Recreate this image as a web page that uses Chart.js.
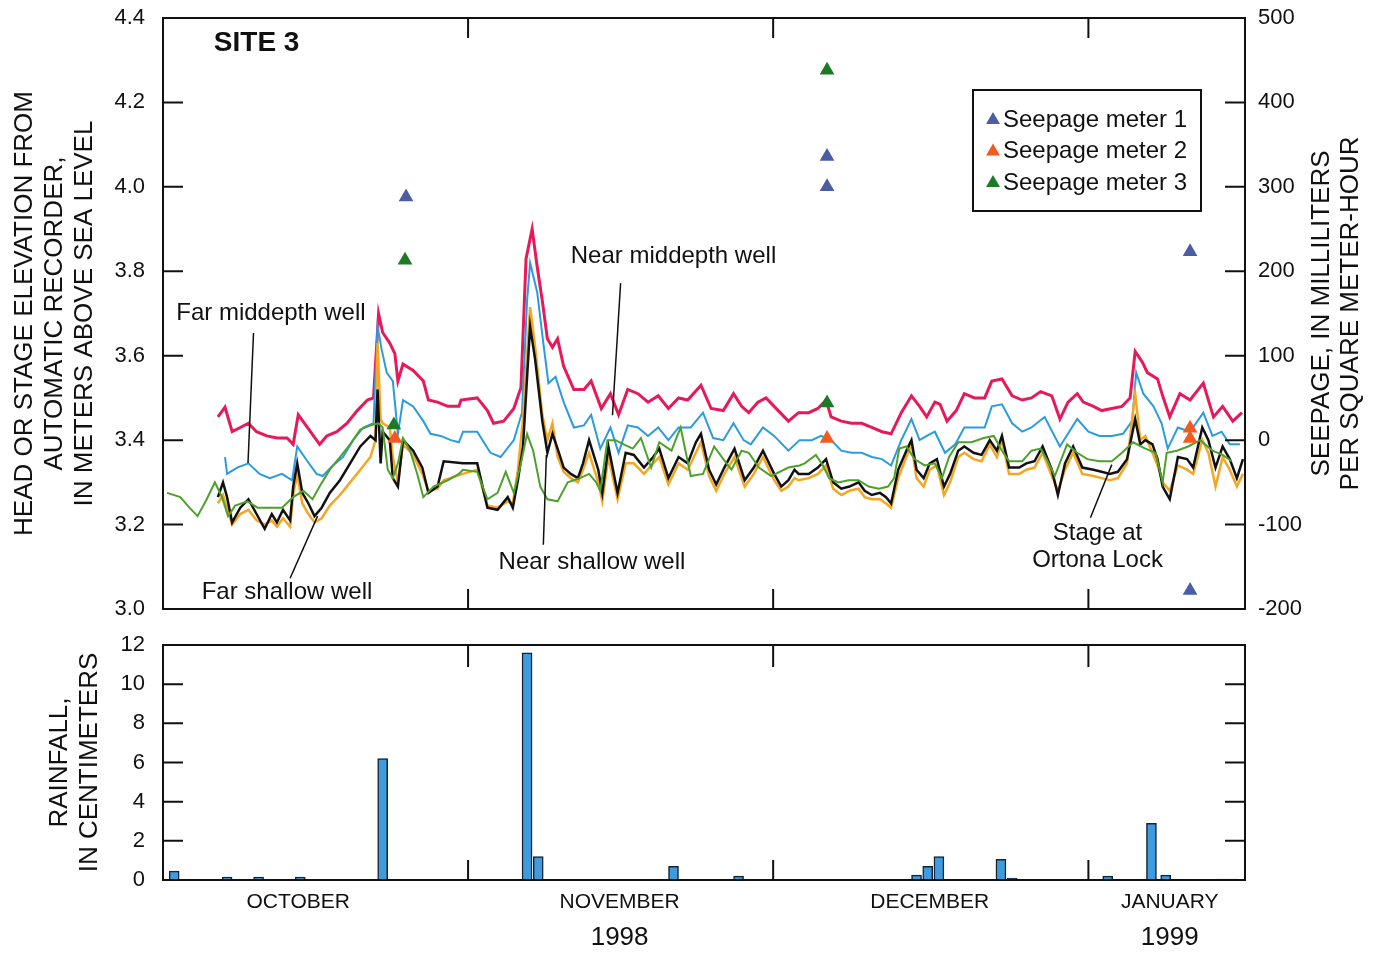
<!DOCTYPE html>
<html>
<head>
<meta charset="utf-8">
<title>Site 3</title>
<script src="https://cdn.jsdelivr.net/npm/chart.js@4.4.1/dist/chart.umd.min.js"></script>
<style>
  html, body { margin: 0; padding: 0; background: #fff; }
  #wrap { position: relative; width: 1378px; height: 953px; }
  canvas { position: absolute; left: 0; }
  #top { top: 0; }
  #bottom { top: 625px; }
</style>
</head>
<body>
<div id="wrap">
  <canvas id="top" width="1378" height="625"></canvas>
  <canvas id="bottom" width="1378" height="328"></canvas>
</div>
<script>
// x values are days since 1 October 1998 (31 = 1 Nov, 61 = 1 Dec, 92 = 1 Jan)
var monthStarts = [31, 61, 92];
var monthNames = ["OCTOBER", "NOVEMBER", "DECEMBER", "JANUARY"];
var monthLabelDays = [14.3, 45.9, 76.4, 100.0];
var yearNames = ["1998", "1999"];
var yearLabelDays = [45.9, 100.0];

// near middepth well (red)
var nearMidDays = [6.4,7.1,7.8,8.6,9.4,10.2,11.2,12.2,13.2,13.8,
    14.3,15.2,15.8,16.4,17.1,18.1,19.1,20.1,21.1,21.7,
    22.2,22.6,23.3,23.8,24.1,24.6,25.6,26.6,27.1,28.0,
    29.0,30.1,30.3,31.9,32.9,33.5,34.5,35.5,36.2,36.7,
    37.3,37.8,38.3,38.8,39.3,39.8,40.4,41.4,42.4,43.1,
    44.1,45.0,45.8,46.7,47.7,48.7,49.7,50.7,51.7,52.6,
    53.9,54.9,56.1,57.1,57.9,58.6,59.5,60.3,61.5,62.5,
    63.5,64.5,65.4,66.2,66.7,67.7,68.7,69.7,70.7,71.7,
    72.6,73.6,74.6,75.4,76.1,76.9,77.4,78.1,79.0,79.8,
    80.8,81.8,82.5,83.5,84.5,85.5,86.4,87.3,88.4,89.2,
    90.0,90.9,91.5,92.5,93.3,94.3,95.3,96.1,96.6,97.3,
    97.8,98.8,99.3,100.0,101.0,102.0,103.3,104.3,105.2,106.2,
    107.1];
var nearMidHead = [3.455,3.478,3.42,3.43,3.44,3.42,3.41,3.405,3.405,3.39,
    3.46,3.43,3.41,3.39,3.41,3.42,3.44,3.47,3.495,3.50,
    3.70,3.655,3.63,3.605,3.54,3.58,3.565,3.54,3.495,3.49,
    3.48,3.48,3.495,3.50,3.47,3.44,3.445,3.475,3.525,3.83,
    3.90,3.81,3.73,3.64,3.62,3.64,3.575,3.52,3.52,3.54,
    3.475,3.51,3.46,3.52,3.51,3.49,3.505,3.475,3.50,3.495,
    3.53,3.475,3.47,3.51,3.48,3.465,3.49,3.50,3.47,3.445,
    3.465,3.465,3.475,3.495,3.455,3.445,3.44,3.44,3.43,3.42,
    3.415,3.465,3.505,3.48,3.455,3.49,3.485,3.445,3.47,3.51,
    3.50,3.50,3.54,3.545,3.505,3.495,3.50,3.515,3.505,3.45,
    3.49,3.51,3.49,3.48,3.47,3.475,3.48,3.50,3.61,3.585,
    3.56,3.545,3.505,3.455,3.51,3.495,3.535,3.455,3.48,3.445,
    3.465];

// far middepth well (blue)
var farMidDays = [7.1,7.3,8.3,9.4,10.5,11.5,12.7,13.7,14.2,15.2,
    16.1,16.7,17.7,18.7,19.7,20.7,21.7,22.1,22.5,23.0,
    23.6,24.1,24.6,25.6,26.6,27.3,28.3,29.3,30.1,30.5,
    31.9,33.2,34.2,35.5,36.3,36.8,37.1,37.8,38.4,38.9,
    39.6,40.4,41.4,42.4,43.1,44.0,45.0,45.8,46.7,47.7,
    48.7,49.7,50.7,51.7,52.9,54.1,55.1,56.1,57.1,58.1,
    58.8,60.0,61.1,62.5,63.6,64.8,65.7,66.7,67.7,68.7,
    69.7,70.7,71.7,72.6,73.6,74.6,75.4,76.1,76.9,77.9,
    78.9,79.8,80.8,81.8,82.5,83.5,84.5,85.5,86.4,87.7,
    89.2,90.9,92.0,93.1,94.3,95.4,96.3,96.7,97.4,98.4,
    99.2,99.8,100.8,102.0,103.3,104.2,105.1,105.9,106.9];
var farMidHead = [3.36,3.32,3.335,3.345,3.32,3.31,3.32,3.305,3.385,3.35,
    3.32,3.315,3.34,3.36,3.40,3.43,3.44,3.67,3.615,3.56,
    3.54,3.415,3.495,3.48,3.445,3.415,3.41,3.40,3.395,3.42,
    3.42,3.37,3.36,3.40,3.465,3.73,3.82,3.75,3.63,3.535,
    3.55,3.49,3.43,3.435,3.46,3.38,3.43,3.37,3.435,3.43,
    3.41,3.43,3.40,3.43,3.43,3.465,3.405,3.40,3.44,3.40,
    3.39,3.43,3.41,3.375,3.40,3.40,3.41,3.40,3.375,3.37,
    3.37,3.36,3.355,3.34,3.40,3.45,3.40,3.41,3.42,3.37,
    3.39,3.43,3.43,3.43,3.48,3.485,3.44,3.42,3.43,3.455,
    3.385,3.45,3.42,3.41,3.41,3.415,3.445,3.56,3.51,3.48,
    3.44,3.38,3.43,3.42,3.465,3.41,3.42,3.39,3.39];

// shallow wells share reading days
var shallowDays = [6.4,6.9,7.3,7.8,8.6,9.4,10.2,11.0,11.7,12.2,
    12.8,13.5,13.8,14.2,14.7,15.3,15.9,16.6,17.4,18.4,
    19.4,20.4,21.4,21.9,22.1,22.4,22.6,23.3,23.6,24.1,
    24.6,25.6,26.5,27.1,28.0,28.6,30.5,31.9,32.9,33.9,
    34.9,35.4,35.9,36.4,37.1,37.6,38.3,38.8,39.3,39.8,
    40.4,41.1,41.8,42.3,42.9,43.8,44.2,44.8,45.7,46.5,
    47.3,48.3,49.2,49.8,50.7,51.7,52.6,53.4,53.9,54.7,
    55.4,56.2,57.2,58.2,59.1,60.0,61.1,61.8,62.5,63.1,
    63.5,64.5,65.4,66.2,66.9,67.7,68.5,69.4,70.0,70.7,
    71.5,72.1,72.6,73.3,74.1,74.6,75.1,75.8,76.4,77.1,
    77.8,78.4,79.2,79.8,80.7,81.5,82.3,83.0,83.5,84.2,
    85.2,85.9,86.7,87.5,88.4,89.0,89.7,90.5,91.4,92.5,
    93.3,94.1,94.9,95.8,96.6,97.1,97.6,98.3,98.8,99.3,
    100.0,100.8,101.7,102.3,103.2,103.8,104.5,105.2,105.9,106.6,
    107.2];
// far shallow well (black)
var farShallowHead = [3.265,3.30,3.265,3.205,3.24,3.26,3.225,3.19,3.225,3.205,
    3.235,3.21,3.29,3.345,3.275,3.25,3.22,3.24,3.275,3.305,
    3.345,3.385,3.41,3.40,3.52,3.345,3.42,3.40,3.31,3.29,
    3.40,3.375,3.335,3.275,3.29,3.35,3.345,3.345,3.24,3.235,
    3.265,3.24,3.305,3.385,3.67,3.59,3.445,3.37,3.415,3.38,
    3.335,3.32,3.31,3.345,3.40,3.33,3.275,3.385,3.275,3.37,
    3.365,3.335,3.36,3.38,3.31,3.36,3.345,3.395,3.415,3.33,
    3.295,3.335,3.38,3.305,3.335,3.375,3.32,3.29,3.305,3.33,
    3.32,3.32,3.335,3.355,3.30,3.285,3.29,3.30,3.28,3.27,
    3.275,3.265,3.25,3.33,3.375,3.40,3.33,3.31,3.345,3.355,
    3.29,3.32,3.375,3.385,3.37,3.365,3.40,3.375,3.41,3.335,
    3.335,3.345,3.35,3.385,3.33,3.27,3.345,3.385,3.335,3.33,
    3.325,3.32,3.325,3.355,3.45,3.39,3.40,3.39,3.355,3.29,
    3.26,3.36,3.355,3.335,3.43,3.40,3.335,3.385,3.355,3.31,
    3.355];
// near shallow well (orange)
var nearShallowHead = [3.25,3.27,3.24,3.20,3.225,3.235,3.21,3.20,3.21,3.195,
    3.215,3.195,3.27,3.32,3.25,3.225,3.205,3.215,3.245,3.27,
    3.30,3.33,3.36,3.40,3.63,3.45,3.44,3.43,3.36,3.30,
    3.39,3.365,3.32,3.28,3.285,3.305,3.32,3.33,3.245,3.24,
    3.255,3.25,3.33,3.45,3.715,3.62,3.46,3.40,3.44,3.36,
    3.325,3.31,3.30,3.33,3.37,3.30,3.255,3.36,3.26,3.345,
    3.345,3.32,3.345,3.36,3.295,3.345,3.33,3.37,3.395,3.315,
    3.28,3.32,3.36,3.29,3.32,3.36,3.305,3.28,3.29,3.31,
    3.305,3.31,3.32,3.34,3.285,3.27,3.28,3.285,3.265,3.26,
    3.26,3.25,3.24,3.31,3.36,3.39,3.31,3.29,3.33,3.34,
    3.27,3.30,3.36,3.37,3.355,3.35,3.39,3.36,3.40,3.32,
    3.32,3.33,3.335,3.37,3.315,3.28,3.33,3.37,3.32,3.315,
    3.31,3.305,3.31,3.345,3.51,3.40,3.41,3.37,3.34,3.30,
    3.28,3.34,3.33,3.32,3.40,3.37,3.29,3.36,3.33,3.29,
    3.32];

// stage at Ortona Lock (green)
var stageDays = [1.4,2.7,3.6,4.4,5.3,6.1,6.8,7.4,8.1,9.3,
    10.3,11.5,12.7,13.8,14.8,15.7,16.4,17.4,18.4,19.4,
    20.4,21.4,22.2,22.6,23.1,23.6,24.1,24.6,25.3,26.0,
    26.6,27.6,29.0,30.1,30.5,31.9,32.9,33.9,34.7,35.5,
    36.2,36.8,37.4,38.1,38.8,39.8,40.8,42.0,42.9,43.6,
    44.0,44.7,45.5,46.3,47.2,48.0,49.0,49.8,51.0,51.9,
    52.9,54.1,55.2,56.1,56.9,57.9,58.6,59.6,60.8,62.5,
    63.6,64.1,65.2,65.9,66.5,67.4,68.4,69.4,70.4,71.4,
    72.3,72.9,73.4,74.1,74.9,75.9,76.9,77.6,78.3,79.2,
    80.5,81.7,82.7,83.5,84.2,85.5,86.4,87.3,87.9,88.7,
    89.9,90.9,91.9,93.1,94.3,95.3,96.4,97.6,98.6,99.3,
    99.7,100.7,101.8,103.0,104.2,105.2,106.1];
var stageHead = [3.275,3.265,3.24,3.22,3.26,3.30,3.265,3.22,3.245,3.255,
    3.24,3.24,3.24,3.265,3.28,3.26,3.29,3.33,3.36,3.39,
    3.425,3.435,3.44,3.43,3.33,3.31,3.345,3.405,3.375,3.32,
    3.265,3.29,3.305,3.32,3.33,3.325,3.26,3.275,3.325,3.275,
    3.345,3.415,3.375,3.29,3.26,3.255,3.30,3.31,3.32,3.30,
    3.28,3.40,3.40,3.39,3.38,3.405,3.335,3.395,3.375,3.43,
    3.315,3.32,3.385,3.355,3.33,3.375,3.37,3.335,3.315,3.335,
    3.34,3.345,3.365,3.34,3.31,3.30,3.305,3.305,3.29,3.285,
    3.29,3.31,3.38,3.385,3.355,3.34,3.345,3.31,3.36,3.395,
    3.395,3.405,3.41,3.375,3.35,3.35,3.375,3.38,3.355,3.315,
    3.39,3.37,3.355,3.35,3.35,3.37,3.395,3.38,3.37,3.30,
    3.37,3.375,3.385,3.40,3.375,3.365,3.35];

// seepage, mL per square meter-hour (right axis)
var meter1Days = [24.9, 66.3, 66.3, 102.0, 102.0];
var meter1Flux = [288, 336, 300, 223, -178];
var meter2Days = [23.8, 66.3, 102.0, 102.0];
var meter2Flux = [2, 2, 14, 2];
var meter3Days = [23.7, 24.8, 66.3, 66.3];
var meter3Flux = [18, 213, 438, 44];

// daily rainfall, cm
var rainDays = [2.1, 7.3, 10.4, 14.5, 22.6, 36.8, 37.9, 51.2, 57.6, 75.1, 76.2, 77.3, 83.4, 84.5, 93.9, 98.2, 99.6, 105.1, 106.2];
var rainCm = [0.45, 0.15, 0.15, 0.15, 6.2, 11.6, 1.2, 0.7, 0.2, 0.25, 0.7, 1.2, 1.05, 0.1, 0.2, 2.9, 0.25, 0.05, 0.05];

var headTitle = ["HEAD OR STAGE ELEVATION FROM", "AUTOMATIC RECORDER,", "IN METERS ABOVE SEA LEVEL"];
var seepageTitle = ["SEEPAGE, IN MILLILITERS", "PER SQUARE METER-HOUR"];
var rainTitle = ["RAINFALL,", "IN CENTIMETERS"];

// labels written on the plot, placed in data units
var notes = [
    { lines: ["SITE 3"], day: 6.0, heads: [4.341], align: "left", bold: true },
    { lines: ["Far middepth well"], day: 2.3, heads: [3.701], align: "left", from: [9.9, 3.654], to: [9.36, 3.346] },
    { lines: ["Near middepth well"], day: 41.1, heads: [3.836], align: "left", from: [46.0, 3.772], to: [45.2, 3.459] },
    { lines: ["Far shallow well"], day: 4.8, heads: [3.040], align: "left", from: [13.5, 3.073], to: [16.2, 3.220] },
    { lines: ["Near shallow well"], day: 34.0, heads: [3.111], align: "left", from: [38.4, 3.152], to: [38.7, 3.365] },
    { lines: ["Stage at", "Ortona Lock"], day: 92.9, heads: [3.180, 3.116], align: "center", from: [92.2, 3.216], to: [94.3, 3.342] }
];

var FONT = '"Liberation Sans", Arial, sans-serif';
var INK = "#111";
Chart.defaults.font.family = FONT;
Chart.defaults.color = INK;

function pts(days, vals) {
    return days.map(function (d, i) { return { x: d, y: vals[i] }; });
}

// fixed axis width; drop the extra room Chart.js keeps for end labels
function fixWidth(w) {
    return function (s) { s.width = w; s.paddingTop = 0; s.paddingBottom = 0; };
}

// frame around the plot plus short inward tick marks
function frameTicks(cfg) {
    return {
        id: "frameTicks",
        afterDraw: function (chart) {
            var ctx = chart.ctx, a = chart.chartArea, s = chart.scales;
            ctx.save();
            ctx.strokeStyle = INK;
            ctx.lineWidth = 2;
            ctx.strokeRect(a.left, a.top, a.right - a.left, a.bottom - a.top);
            ctx.beginPath();
            cfg.left.forEach(function (v) {
                var y = s[cfg.leftScale].getPixelForValue(v);
                ctx.moveTo(a.left, y); ctx.lineTo(a.left + cfg.len, y);
            });
            cfg.right.forEach(function (v) {
                var y = s[cfg.rightScale].getPixelForValue(v);
                ctx.moveTo(a.right, y); ctx.lineTo(a.right - cfg.len, y);
            });
            monthStarts.forEach(function (d) {
                var x = s.x.getPixelForValue(d);
                ctx.moveTo(x, a.top); ctx.lineTo(x, a.top + cfg.topLen);
                ctx.moveTo(x, a.bottom); ctx.lineTo(x, a.bottom - cfg.len);
            });
            ctx.stroke();
            ctx.restore();
        }
    };
}

var notesPlugin = {
    id: "notes",
    afterDatasetsDraw: function (chart) {
        var ctx = chart.ctx, x = chart.scales.x, y = chart.scales.y;
        ctx.save();
        ctx.fillStyle = INK;
        ctx.strokeStyle = INK;
        ctx.lineWidth = 1.5;
        ctx.textBaseline = "middle";
        notes.forEach(function (n) {
            ctx.font = (n.bold ? "bold 28px " : "24px ") + FONT;
            ctx.textAlign = n.align;
            n.lines.forEach(function (t, i) {
                ctx.fillText(t, x.getPixelForValue(n.day), y.getPixelForValue(n.heads[i]));
            });
            if (n.from) {
                ctx.beginPath();
                ctx.moveTo(x.getPixelForValue(n.from[0]), y.getPixelForValue(n.from[1]));
                ctx.lineTo(x.getPixelForValue(n.to[0]), y.getPixelForValue(n.to[1]));
                ctx.stroke();
            }
        });
        ctx.restore();
    }
};

function triangle(ctx, cx, cy, r) {
    ctx.beginPath();
    ctx.moveTo(cx, cy - r);
    ctx.lineTo(cx + r * 0.87, cy + r * 0.5);
    ctx.lineTo(cx - r * 0.87, cy + r * 0.5);
    ctx.closePath();
    ctx.fill();
}

// boxed legend for the seepage meters only
var seepLegend = {
    id: "seepLegend",
    afterDraw: function (chart) {
        var ctx = chart.ctx, a = chart.chartArea;
        var left = a.right - 272, top = a.top + 72;
        ctx.save();
        ctx.fillStyle = "#fff";
        ctx.fillRect(left, top, 228, 121);
        ctx.strokeStyle = INK;
        ctx.lineWidth = 2;
        ctx.strokeRect(left, top, 228, 121);
        ctx.font = "24px " + FONT;
        ctx.textBaseline = "middle";
        ctx.textAlign = "left";
        chart.data.datasets.filter(function (d) { return d.type === "scatter"; }).forEach(function (d, i) {
            var cy = top + 30 + i * 31.5;
            ctx.fillStyle = d.backgroundColor;
            triangle(ctx, left + 20, cy, 8);
            ctx.fillStyle = INK;
            ctx.fillText(d.label, left + 30, cy);
        });
        ctx.restore();
    }
};

var rightTitle = {
    id: "rightTitle",
    afterDraw: function (chart) {
        var ctx = chart.ctx, s = chart.scales.y2;
        var cy = (s.top + s.bottom) / 2;
        ctx.save();
        ctx.fillStyle = INK;
        ctx.font = "26px " + FONT;
        ctx.textAlign = "center";
        ctx.textBaseline = "middle";
        seepageTitle.forEach(function (t, i) {
            ctx.save();
            ctx.translate(s.right - 56 + i * 29, cy);
            ctx.rotate(-Math.PI / 2);
            ctx.fillText(t, 0, 0);
            ctx.restore();
        });
        ctx.restore();
    }
};

function lineSet(label, days, vals, color, width, order) {
    return { type: "line", label: label, data: pts(days, vals), borderColor: color,
        borderWidth: width, pointRadius: 0, tension: 0, yAxisID: "y", order: order };
}
function seepSet(label, days, vals, color) {
    return { type: "scatter", label: label, data: pts(days, vals), backgroundColor: color,
        borderColor: color, borderWidth: 0, pointStyle: "triangle", pointRadius: 8.5, yAxisID: "y2", order: 0 };
}

new Chart("top", {
    type: "line",
    data: {
        datasets: [
            seepSet("Seepage meter 1", meter1Days, meter1Flux, "#4c5ea3"),
            seepSet("Seepage meter 2", meter2Days, meter2Flux, "#f25a1f"),
            seepSet("Seepage meter 3", meter3Days, meter3Flux, "#1c7a26"),
            lineSet("Stage at Ortona Lock", stageDays, stageHead, "#4ea02c", 2, 1),
            lineSet("Far shallow well", shallowDays, farShallowHead, "#111111", 2.5, 2),
            lineSet("Near shallow well", shallowDays, nearShallowHead, "#f5a623", 2.5, 3),
            lineSet("Far middepth well", farMidDays, farMidHead, "#2b9be0", 2, 4),
            lineSet("Near middepth well", nearMidDays, nearMidHead, "#e8195a", 3, 5)
        ]
    },
    options: {
        responsive: false,
        animation: false,
        events: [],
        layout: { padding: { top: 18, bottom: 16, left: 0, right: 0 } },
        plugins: { legend: { display: false }, tooltip: { enabled: false } },
        scales: {
            x: { type: "linear", min: 1, max: 107.4, display: false },
            y: {
                type: "linear", position: "left", min: 3.0, max: 4.4,
                ticks: { stepSize: 0.2, padding: 18, color: INK, font: { size: 22 },
                    callback: function (v) { return v.toFixed(1); } },
                grid: { display: false, drawTicks: false },
                border: { display: false },
                title: { display: true, text: headTitle, color: INK,
                    font: { size: 26, lineHeight: 1.15 }, padding: { top: 10, bottom: 0 } },
                afterFit: fixWidth(163)
            },
            y2: {
                type: "linear", position: "right", min: -200, max: 500,
                ticks: { stepSize: 100, padding: 13, color: INK, font: { size: 22 } },
                grid: { display: false, drawTicks: false },
                border: { display: false },
                afterFit: fixWidth(133)
            }
        }
    },
    plugins: [
        frameTicks({ leftScale: "y", left: [3.2, 3.4, 3.6, 3.8, 4.0, 4.2],
            rightScale: "y2", right: [-100, 0, 100, 200, 300, 400], len: 20, topLen: 20 }),
        notesPlugin, seepLegend, rightTitle
    ]
});

new Chart("bottom", {
    type: "bar",
    data: {
        datasets: [{
            label: "Rainfall",
            data: pts(rainDays, rainCm),
            backgroundColor: "#3f9be0",
            borderColor: "#16232f",
            borderWidth: 1.5,
            barThickness: 10
        }]
    },
    options: {
        responsive: false,
        animation: false,
        events: [],
        layout: { padding: { top: 20, bottom: 0, left: 0, right: 133 } },
        plugins: { legend: { display: false }, tooltip: { enabled: false } },
        scales: {
            x: {
                type: "linear", min: 1, max: 107.4, offset: false, position: "bottom", weight: 0,
                grid: { display: false, drawTicks: false },
                border: { display: false },
                ticks: { autoSkip: false, maxRotation: 0, padding: 10, color: INK, font: { size: 21 },
                    callback: function (v, i) { return monthNames[i]; } },
                afterBuildTicks: function (s) { s.ticks = monthLabelDays.map(function (v) { return { value: v }; }); },
                afterFit: function (s) { s.height = 36; }
            },
            x2: {
                type: "linear", min: 1, max: 107.4, offset: false, position: "bottom", weight: 1,
                grid: { display: false, drawTicks: false },
                border: { display: false },
                ticks: { autoSkip: false, maxRotation: 0, padding: 6, color: INK, font: { size: 26 },
                    callback: function (v, i) { return yearNames[i]; } },
                afterBuildTicks: function (s) { s.ticks = yearLabelDays.map(function (v) { return { value: v }; }); },
                afterFit: function (s) { s.height = 37; }
            },
            y: {
                type: "linear", position: "left", min: 0, max: 12,
                ticks: { stepSize: 2, padding: 18, color: INK, font: { size: 22 } },
                grid: { display: false, drawTicks: false },
                border: { display: false },
                title: { display: true, text: rainTitle, color: INK,
                    font: { size: 26, lineHeight: 1.15 }, padding: { top: 45, bottom: 0 } },
                afterFit: fixWidth(163)
            }
        }
    },
    plugins: [
        frameTicks({ leftScale: "y", left: [2, 4, 6, 8, 10],
            rightScale: "y", right: [2, 4, 6, 8, 10], len: 20, topLen: 22 })
    ]
});
</script>
</body>
</html>
